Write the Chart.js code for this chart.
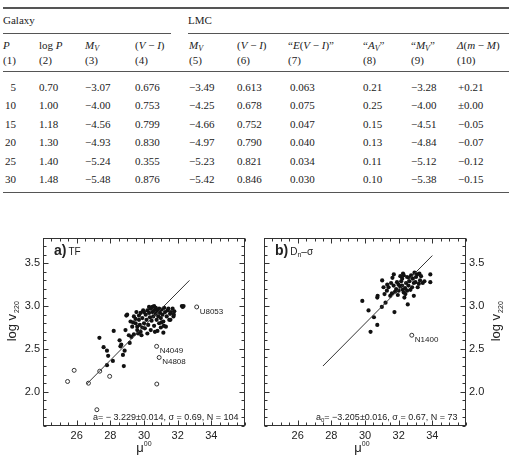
<!DOCTYPE html>
<html><head><meta charset="utf-8">
<script src="https://cdn.jsdelivr.net/npm/chart.js@4.4.0/dist/chart.umd.min.js"></script>
<style>
body{margin:0;width:512px;height:459px;background:#fff;position:relative;overflow:hidden;font-family:"Liberation Serif","Times New Roman",serif;color:#222}
.t{position:absolute;font-size:11px;white-space:nowrap;line-height:11px}
.t sub{font-size:8px;vertical-align:-2px;line-height:0}
.rule{position:absolute;background:#555}
canvas{position:absolute}
</style></head><body>
<div id="tbl"></div>
<canvas id="ca" width="256" height="231" style="left:0;top:228px"></canvas>
<canvas id="cb" width="256" height="231" style="left:256px;top:228px"></canvas>
<script>
// ---------- table data ----------
const periods = [5, 10, 15, 20, 25, 30];
const logP    = [0.70, 1.00, 1.18, 1.30, 1.40, 1.48];
const mvGal   = [-3.07, -4.00, -4.56, -4.93, -5.24, -5.48];
const viGal   = [0.676, 0.753, 0.799, 0.830, 0.355, 0.876];
const mvLmc   = [-3.49, -4.25, -4.66, -4.97, -5.23, -5.42];
const viLmc   = [0.613, 0.678, 0.752, 0.790, 0.821, 0.846];
const eVI     = [0.063, 0.075, 0.047, 0.040, 0.034, 0.030];
const aV      = [0.21, 0.25, 0.15, 0.13, 0.11, 0.10];
const mvQ     = [-3.28, -4.00, -4.51, -4.84, -5.12, -5.38];
const dMod    = [0.21, 0.00, -0.05, -0.07, -0.12, -0.15];
const headers = ['<i>P</i>', 'log <i>P</i>', '<i>M</i><sub><i>V</i></sub>', '(<i>V</i> \u2212 <i>I</i>)',
  '<i>M</i><sub><i>V</i></sub>', '(<i>V</i> \u2212 <i>I</i>)', '\u201C<i>E</i>(<i>V</i> \u2212 <i>I</i>)\u201D',
  '\u201C<i>A</i><sub><i>V</i></sub>\u201D', '\u201C<i>M</i><sub><i>V</i></sub>\u201D', '<i>\u0394</i>(<i>m</i> \u2212 <i>M</i>)'];
const colNums = ['(1)','(2)','(3)','(4)','(5)','(6)','(7)','(8)','(9)','(10)'];

// ---------- chart data ----------
const xTicks = [26, 28, 30, 32, 34];
const yTicks = [2.0, 2.5, 3.0, 3.5];

const aFilledX = [27.35,27.6,27.8,27.87,28.15,27.8,28.8,28.2,28.55,28.65,28.85,28.75,28.9,28.95,29.15,29.25,29.4,29.35,29.5,29.7,29.6,29.8,28.6,29.1,
  29.0,29.2,29.3,29.4,29.5,29.55,29.6,29.7,29.75,29.8,29.85,29.9,29.95,30.0,30.05,30.1,30.15,30.2,30.2,30.25,30.3,30.35,30.4,30.4,30.45,30.5,30.5,30.55,30.6,30.6,30.65,30.7,30.7,30.75,30.8,30.85,30.9,30.9,30.95,31.0,31.0,31.05,31.1,31.15,31.2,31.25,31.3,31.35,31.4,31.45,31.5,31.55,31.6,31.7,31.75,31.8,32.25,32.3,32.35,30.3,30.0,29.9,30.8,31.15,29.65,31.57,31.04,31.18,31.77,30.6,30.9];
const aFilledY = [2.63,2.52,2.48,2.42,2.36,2.31,2.30,2.71,2.60,2.55,2.48,2.43,2.72,2.89,2.57,2.64,2.67,2.81,2.85,2.89,2.76,2.70,2.53,2.66,
  2.90,2.82,2.76,2.88,2.80,2.93,2.72,2.84,2.78,2.92,2.66,2.86,2.95,2.80,2.74,2.90,2.84,2.95,2.68,2.78,2.92,2.87,2.97,2.72,2.83,2.93,2.99,2.88,2.77,2.95,2.70,2.91,2.98,2.84,2.95,2.88,2.80,2.97,2.92,2.75,2.86,2.96,2.90,2.82,2.98,2.93,2.76,2.88,2.95,2.97,2.84,2.91,2.93,2.97,2.88,2.94,3.00,2.99,3.00,2.99,2.93,2.75,2.71,2.69,2.68,2.84,2.81,2.77,2.90,3.00,2.96];
const aOpenX = [33.13, 30.75, 30.9, 30.76, 25.85, 25.46, 27.37, 27.96, 26.7, 27.2];
const aOpenY = [2.99, 2.53, 2.40, 2.09, 2.25, 2.12, 2.24, 2.18, 2.10, 1.79];
const aOpenLabels = ['U8053', 'N4049', 'N4808', '', '', '', '', '', '', ''];
const aFitX = [26.6, 32.7];
const aFitY = [2.09, 3.30];

const bFilledX = [29.84,30.21,30.53,30.73,30.33,31.02,30.73,30.75,31.0,31.22,31.16,31.30,31.32,31.55,31.63,31.71,31.75,31.79,31.85,31.95,31.99,32.09,32.15,32.21,32.26,32.24,32.30,32.34,32.38,32.44,32.50,32.54,32.58,32.64,32.70,32.74,32.84,32.90,32.94,33.03,33.13,33.23,33.27,33.33,33.43,33.53,33.88,33.88,
  31.1,31.4,31.5,31.9,32.0,32.2,32.3,32.4,32.6,32.8,33.0,33.1,32.1,31.7,32.5,33.2,31.6,32.9];
const bFilledY = [3.06,2.95,2.87,2.78,2.70,3.30,3.10,3.12,2.99,3.04,3.14,3.18,3.25,3.27,3.33,3.37,2.93,3.17,3.20,3.13,3.25,3.23,3.29,3.32,3.38,3.19,3.16,3.10,3.21,3.27,3.34,3.02,3.24,3.29,3.19,3.36,3.32,3.27,3.39,3.34,3.22,3.38,3.30,3.35,3.27,3.29,3.37,3.28,
  3.22,3.22,3.12,3.28,3.18,3.24,3.36,3.14,3.33,3.22,3.28,3.37,3.35,3.24,3.18,3.26,3.15,3.12];
const bOpenX = [32.78];
const bOpenY = [2.66];
const bOpenLabels = ['N1400'];
const bFitX = [27.5, 34.0];
const bFitY = [2.30, 3.59];

// ---------- table rendering ----------
const tbl = document.getElementById('tbl');
function put(html, left, top, extra) {
  const d = document.createElement('div');
  d.className = 't'; d.innerHTML = html;
  d.style.left = left + 'px'; d.style.top = top + 'px';
  if (extra) Object.assign(d.style, extra);
  tbl.appendChild(d);
}
function rule(l, t, w, h) {
  const d = document.createElement('div'); d.className = 'rule';
  Object.assign(d.style, {left: l + 'px', top: t + 'px', width: w + 'px', height: h + 'px'});
  tbl.appendChild(d);
}
const colX = [3, 39, 85, 135, 189, 237, 288, 363, 411, 457];
rule(3, 7, 506, 1.5);
put('Galaxy', 3, 14.5); put('LMC', 188, 14.5);
rule(3, 33, 168, 1); rule(188, 33, 321, 1);
headers.forEach((h, i) => put(h, colX[i], 39.5));
colNums.forEach((h, i) => put(h, colX[i], 54.5));
rule(3, 70.5, 506, 1.5);
const fm = (v, d) => (v < 0 ? '\u2212' : '') + Math.abs(v).toFixed(d);
const fs = (v, d) => (v > 0 ? '+' : v < 0 ? '\u2212' : '\u00B1') + Math.abs(v).toFixed(d);
periods.forEach((p, r) => {
  const top = 81.5 + r * 18.5;
  put(String(p), 0, top, {width: '16px', textAlign: 'right'});
  const cells = [logP[r].toFixed(2), fm(mvGal[r], 2), viGal[r].toFixed(3), fm(mvLmc[r], 2), viLmc[r].toFixed(3),
    eVI[r].toFixed(3), aV[r].toFixed(2), fm(mvQ[r], 2), fs(dMod[r], 2)];
  const cx = [39, 85, 135, 189, 237, 290, 363, 411, 458];
  cells.forEach((c, i) => put(c, cx[i], top));
});
rule(3, 191.5, 506, 1.5);

// ---------- charts ----------
const SANS = "'Liberation Sans', Arial, Helvetica, sans-serif";
Chart.defaults.font.family = SANS;
Chart.defaults.color = '#222';
const pts = (xs, ys) => xs.map((x, i) => ({x, y: ys[i]}));
const minorX = []; for (let v = 24; v <= 36.001; v += 0.5) minorX.push(+v.toFixed(1));
const minorY = []; for (let v = 1.6; v <= 3.8001; v += 0.1) minorY.push(+v.toFixed(1));

function text(ctx, s, x, y, size, opt) {
  ctx.font = (opt && opt.bold ? 'bold ' : '') + size + 'px ' + SANS;
  ctx.fillText(s, x, y);
  return x + ctx.measureText(s).width;
}

function makeDeco(cfg) {
  return {
    id: 'deco',
    afterDraw(chart) {
      const {ctx, chartArea: a, scales: {x, y}} = chart;
      ctx.save();
      ctx.strokeStyle = '#333'; ctx.lineWidth = 1;
      const L = Math.round(a.left) + 0.5, R = Math.round(a.right) - 0.5, T = Math.round(a.top) + 0.5, B = Math.round(a.bottom) - 0.5;
      ctx.strokeRect(L, T, R - L, B - T);
      ctx.beginPath();
      const tx = (v, len) => { const p = Math.round(x.getPixelForValue(v)) + 0.5; ctx.moveTo(p, B); ctx.lineTo(p, B - len); ctx.moveTo(p, T); ctx.lineTo(p, T + len); };
      const ty = (v, len) => { const p = Math.round(y.getPixelForValue(v)) + 0.5; ctx.moveTo(L, p); ctx.lineTo(L + len, p); ctx.moveTo(R, p); ctx.lineTo(R - len, p); };
      minorX.forEach(v => tx(v, xTicks.includes(v) ? 5 : 3));
      minorY.forEach(v => ty(v, yTicks.includes(v) ? 5 : 3));
      ctx.stroke();

      ctx.fillStyle = '#222'; ctx.textBaseline = 'alphabetic'; ctx.textAlign = 'left';
      // panel label
      let px = a.left + 11;
      const by = a.top + 17;
      px = text(ctx, cfg.panel, px, by, 14, {bold: true});
      px = text(ctx, cfg.panelMain, px + 2, by, 10);
      if (cfg.panelSub) { px = text(ctx, cfg.panelSub, px, by + 2, 7); px = text(ctx, cfg.panelRest, px, by, 10); }
      // annotation
      let ax = a.left + cfg.annoX;
      ax = text(ctx, cfg.anno1, ax, a.bottom - 6, 9);
      if (cfg.annoSub) { ax = text(ctx, cfg.annoSub, ax, a.bottom - 4, 6); ax = text(ctx, cfg.anno2, ax, a.bottom - 6, 9); }
      // point labels
      cfg.openX.forEach((v, i) => {
        const lab = cfg.openLabels[i]; if (!lab) return;
        text(ctx, lab, x.getPixelForValue(v) + 3, y.getPixelForValue(cfg.openY[i]) + 7, 8);
      });
      // x title
      const xc = (a.left + a.right) / 2 + cfg.xTitleDx;
      ctx.font = '13px ' + SANS; const wm = ctx.measureText('\u03BC').width;
      ctx.font = '7px ' + SANS; const ws = ctx.measureText('00').width;
      let sx = xc - (wm + ws) / 2;
      sx = text(ctx, '\u03BC', sx, a.bottom + 26, 13);
      text(ctx, '00', sx, a.bottom + 20, 7);
      // y title
      ctx.save();
      ctx.translate(cfg.yTitleX, (a.top + a.bottom) / 2 - 10);
      ctx.rotate(-Math.PI / 2);
      ctx.font = '13px ' + SANS; const w1 = ctx.measureText('log v').width;
      ctx.font = '7px ' + SANS; const w2 = ctx.measureText('220').width;
      let ty0 = -(w1 + w2) / 2;
      ty0 = text(ctx, 'log v', ty0, 4, 13);
      text(ctx, '220', ty0 + 1, 7, 7);
      ctx.restore();
      ctx.restore();
    }
  };
}

function makeChart(id, d) {
  return new Chart(document.getElementById(id), {
    type: 'scatter',
    data: {
      datasets: [
        {data: pts(d.fitX, d.fitY), showLine: true, borderColor: '#333', borderWidth: 1, pointRadius: 0},
        {data: pts(d.filledX, d.filledY), pointRadius: 2.1, backgroundColor: '#111', borderColor: '#111', borderWidth: 0},
        {data: pts(d.openX, d.openY), pointRadius: 2, backgroundColor: 'rgba(255,255,255,0)', borderColor: '#333', borderWidth: 1}
      ]
    },
    options: {
      responsive: false, animation: false, events: [],
      layout: {padding: d.padding},
      plugins: {legend: {display: false}, tooltip: {enabled: false}},
      scales: {
        x: {type: 'linear', min: 24, max: 36,
          afterBuildTicks: s => { s.ticks = xTicks.map(v => ({value: v})); },
          ticks: {font: {size: 11}, color: '#222', padding: 3, maxRotation: 0, callback: v => String(v)},
          grid: {display: false, drawTicks: false}, border: {display: false},
          afterFit: s => { s.height = 33; }},
        y: {type: 'linear', min: 1.6, max: 3.8, position: d.yPos,
          afterBuildTicks: s => { s.ticks = yTicks.map(v => ({value: v})); },
          ticks: {font: {size: 11}, color: '#222', padding: 3, callback: v => v.toFixed(1)},
          grid: {display: false, drawTicks: false}, border: {display: false},
          afterFit: s => { s.width = d.yWidth; }}
      }
    },
    plugins: [makeDeco(d.deco)]
  });
}

makeChart('ca', {
  fitX: aFitX, fitY: aFitY, filledX: aFilledX, filledY: aFilledY, openX: aOpenX, openY: aOpenY,
  padding: {left: 0, top: 6, right: 11, bottom: 0}, yPos: 'left', yWidth: 43,
  deco: {panel: 'a)', panelMain: 'TF', anno1: 'a= \u2212 3.229\u00B10.014, \u03C3 = 0.69, N = 104', annoX: 50,
    openX: aOpenX, openY: aOpenY, openLabels: aOpenLabels, yTitleX: 12, xTitleDx: 0}
});
makeChart('cb', {
  fitX: bFitX, fitY: bFitY, filledX: bFilledX, filledY: bFilledY, openX: bOpenX, openY: bOpenY,
  padding: {left: 8, top: 6, right: 0, bottom: 0}, yPos: 'right', yWidth: 46,
  deco: {panel: 'b)', panelMain: 'D', panelSub: 'n', panelRest: '\u2013\u03C3', anno1: 'a', annoSub: '0', anno2: '= \u22123.205\u00B10.016, \u03C3 = 0.67, N = 73', annoX: 52,
    openX: bOpenX, openY: bOpenY, openLabels: bOpenLabels, yTitleX: 240, xTitleDx: -3}
});
</script>
</body></html>
